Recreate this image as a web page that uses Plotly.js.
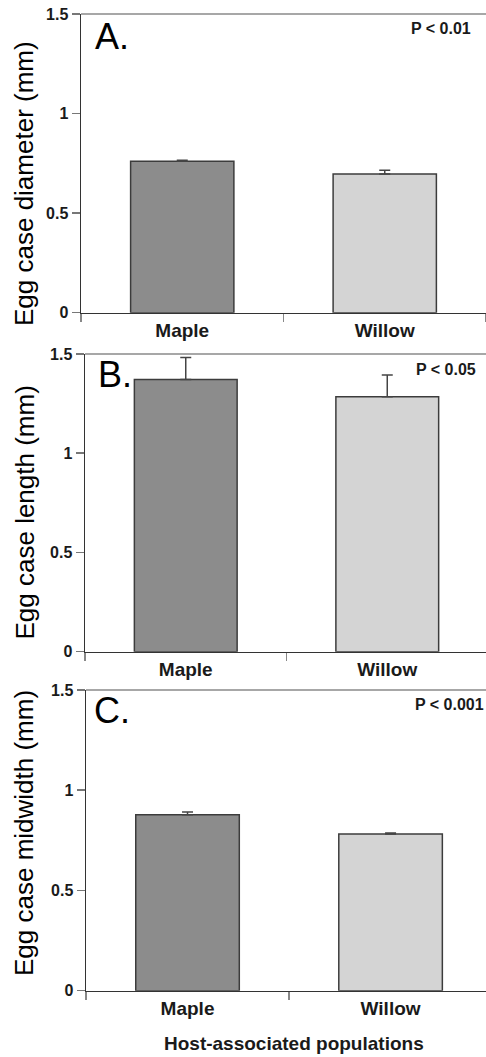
<!DOCTYPE html>
<html>
<head>
<meta charset="utf-8">
<script src="https://cdn.plot.ly/plotly-3.0.1.min.js"></script>
<style>
  html, body { margin: 0; padding: 0; background: #fff; }
  #chart { width: 486px; height: 1057px; }
</style>
</head>
<body>
<div id="chart"></div>
<script>
// Host-associated populations
const categories = ['Maple', 'Willow'];

// Egg case measurements (mm): means and standard errors
const diameterMean = [0.760, 0.697];
const diameterErr  = [0.006, 0.018];
const lengthMean   = [1.372, 1.285];
const lengthErr    = [0.110, 0.109];
const midwidthMean = [0.878, 0.782];
const midwidthErr  = [0.013, 0.005];

const yTickVals = [0, 0.5, 1, 1.5];
const yTickText = ['0', '0.5', '1', '1.5'];

const panelLetters = ['A.', 'B.', 'C.'];
const pValues = ['P < 0.01', 'P < 0.05', 'P < 0.001'];
const yTitles = ['Egg case diameter (mm)', 'Egg case length (mm)', 'Egg case midwidth (mm)'];
const xTitle = 'Host-associated populations';

const FONT = 'Liberation Sans, Arial, Helvetica, sans-serif';
const barColors = ['#8c8c8c', '#d4d4d4'];
const W = 486, H = 1057;
const px = v => v / W;          // horizontal pixel -> paper
const py = v => 1 - v / H;      // vertical pixel -> paper

function barTrace(means, errs, n) {
  return {
    type: 'bar',
    x: categories,
    y: means,
    xaxis: 'x' + (n === 1 ? '' : n),
    yaxis: 'y' + (n === 1 ? '' : n),
    width: 0.51,
    marker: { color: barColors, line: { color: '#3c3c3c', width: 1.5 } },
    error_y: {
      type: 'data', array: errs, arrayminus: [0, 0], symmetric: false,
      color: '#444', thickness: 1.5, width: 5.5
    },
    showlegend: false,
    hoverinfo: 'x+y'
  };
}

const data = [
  barTrace(diameterMean, diameterErr, 1),
  barTrace(lengthMean, lengthErr, 2),
  barTrace(midwidthMean, midwidthErr, 3)
];

// panel geometry in pixels: left edge of plot, top, bottom
const panels = [
  { left: 81, top: 14,  bottom: 312.7, xmax: 1.5  },
  { left: 85, top: 354, bottom: 651.7, xmax: 1.49 },
  { left: 86, top: 690, bottom: 990.7, xmax: 1.47 }
];

function xAxis(p, n) {
  return {
    domain: [px(p.left), 1],
    anchor: 'y' + (n === 1 ? '' : n),
    type: 'category',
    range: [-0.5, p.xmax],
    tickson: 'boundaries',
    ticks: 'outside', ticklen: 8, tickwidth: 1.5, tickcolor: '#888',
    showline: true, linecolor: '#333', linewidth: 1.5,
    showgrid: false, zeroline: false,
    tickfont: { family: FONT, size: 19, color: '#1a1a1a', weight: 'bold' },
    fixedrange: true
  };
}

function yAxis(p, n) {
  return {
    domain: [py(p.bottom), py(p.top)],
    anchor: 'x' + (n === 1 ? '' : n),
    range: [0, 1.5],
    tickmode: 'array', tickvals: yTickVals, ticktext: yTickText,
    ticks: 'outside', ticklen: 8, tickwidth: 1.5, tickcolor: '#777',
    showline: true, linecolor: '#333', linewidth: 1.5,
    showgrid: false, zeroline: false,
    tickfont: { family: FONT, size: 16, color: '#1a1a1a', weight: 'bold' },
    fixedrange: true
  };
}

const annotations = [];
const shapes = [];
const letterY = [36, 374.5, 710.5];
const letterX = [93, 96, 92];
const pX = [409, 414, 413];
const pY = [28, 369, 704];
const titleY = [184, 512.5, 833];

panels.forEach((p, i) => {
  const n = i + 1;
  const sfx = n === 1 ? '' : n;
  // top border of the plotting area
  shapes.push({
    type: 'line', xref: 'x' + sfx + ' domain', yref: 'y' + sfx + ' domain',
    x0: 0, x1: 1, y0: 1, y1: 1,
    line: { color: '#8a8a8a', width: 1.5 }
  });
  annotations.push({
    text: panelLetters[i], xref: 'paper', yref: 'paper',
    x: px(letterX[i]), y: py(letterY[i]), xanchor: 'left', yanchor: 'middle',
    showarrow: false, font: { family: FONT, size: 36, color: '#000' }
  });
  annotations.push({
    text: pValues[i], xref: 'paper', yref: 'paper',
    x: px(pX[i]), y: py(pY[i]), xanchor: 'left', yanchor: 'middle',
    showarrow: false, font: { family: FONT, size: 16, color: '#1a1a1a', weight: 'bold' }
  });
  annotations.push({
    text: yTitles[i], xref: 'paper', yref: 'paper', textangle: -90,
    x: px(24), y: py(titleY[i]), xanchor: 'center', yanchor: 'middle',
    showarrow: false, font: { family: FONT, size: 26, color: '#000' }
  });
});

annotations.push({
  text: xTitle, xref: 'paper', yref: 'paper',
  x: px(294), y: py(1043), xanchor: 'center', yanchor: 'middle',
  showarrow: false, font: { family: FONT, size: 19, color: '#1a1a1a', weight: 'bold' }
});

const layout = {
  width: W, height: H,
  margin: { l: 0, r: 0, t: 0, b: 0 },
  paper_bgcolor: '#fff', plot_bgcolor: '#fff',
  font: { family: FONT },
  xaxis: xAxis(panels[0], 1), yaxis: yAxis(panels[0], 1),
  xaxis2: xAxis(panels[1], 2), yaxis2: yAxis(panels[1], 2),
  xaxis3: xAxis(panels[2], 3), yaxis3: yAxis(panels[2], 3),
  annotations: annotations,
  shapes: shapes,
  showlegend: false
};

Plotly.newPlot('chart', data, layout, { displayModeBar: false, staticPlot: true });
</script>
</body>
</html>
